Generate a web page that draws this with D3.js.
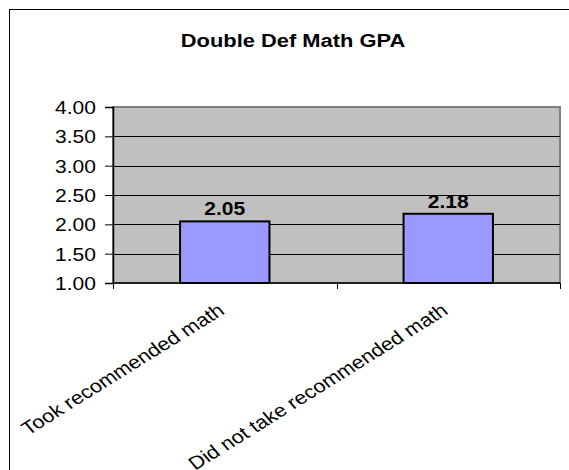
<!DOCTYPE html>
<html>
<head>
<meta charset="utf-8">
<script src="https://cdn.jsdelivr.net/npm/d3@7"></script>
<style>
  html, body { margin: 0; padding: 0; background: #fff; }
  svg { display: block; }
  text { font-family: "Liberation Sans", Arial, sans-serif; fill: #000; }
</style>
</head>
<body>
<svg id="chart" width="569" height="470"></svg>
<script>
const title = "Double Def Math GPA";
const categories = ["Took recommended math", "Did not take recommended math"];
const values = [2.05, 2.18];
const valueLabels = ["2.05", "2.18"];
const yTicks = [1.00, 1.50, 2.00, 2.50, 3.00, 3.50, 4.00];
const yDomain = [1, 4];

const W = 569, H = 470;
const plot = { left: 113, top: 107, right: 560, bottom: 283 };
const sx = 1.17; // horizontal stretch of the original picture

const svg = d3.select("#chart");

// outer chart border (cropped on right/bottom)
svg.append("rect")
  .attr("x", 9.5).attr("y", 9.5)
  .attr("width", W + 10).attr("height", H + 10)
  .attr("fill", "#fff").attr("stroke", "#000").attr("stroke-width", 1);

const x = d3.scaleBand()
  .domain(categories)
  .range([plot.left, plot.right])
  .paddingInner(0.6)
  .paddingOuter(0.3);

const y = d3.scaleLinear().domain(yDomain).range([plot.bottom, plot.top]);

// plot area
svg.append("rect")
  .attr("x", plot.left).attr("y", plot.top)
  .attr("width", plot.right - plot.left).attr("height", plot.bottom - plot.top)
  .attr("fill", "#C0C0C0").attr("stroke", "#808080").attr("stroke-width", 2);

// gridlines
svg.append("g").selectAll("line")
  .data(yTicks.filter(t => t > yDomain[0] && t < yDomain[1]))
  .join("line")
  .attr("x1", plot.left).attr("x2", plot.right)
  .attr("y1", d => Math.round(y(d)) + 0.5).attr("y2", d => Math.round(y(d)) + 0.5)
  .attr("stroke", "#000").attr("stroke-width", 1);

// bars
svg.append("g").selectAll("rect")
  .data(values)
  .join("rect")
  .attr("x", (d, i) => x(categories[i]))
  .attr("y", d => y(d))
  .attr("width", x.bandwidth())
  .attr("height", d => y(yDomain[0]) - y(d))
  .attr("fill", "#9999FF").attr("stroke", "#000").attr("stroke-width", 2);

// y axis
const yAxis = d3.axisLeft(y).tickValues(yTicks).tickSize(8).tickPadding(9)
  .tickFormat(d3.format(".2f"));
const gy = svg.append("g").attr("transform", `translate(${plot.left},0)`).call(yAxis);
gy.select(".domain").attr("stroke", "#000").attr("stroke-width", 1.5);
gy.selectAll(".tick line").attr("stroke", "#000");
gy.selectAll(".tick text")
  .attr("font-size", 18)
  .attr("dy", "0.36em")
  .each(function() {
    const t = d3.select(this);
    const xx = +t.attr("x");
    t.attr("x", 0).attr("transform", `translate(${xx},0) scale(${sx},1)`);
  });

// x axis (ticks at category boundaries)
const boundaries = [plot.left, (plot.left + plot.right) / 2, plot.right];
svg.append("line")
  .attr("x1", plot.left).attr("x2", plot.right)
  .attr("y1", plot.bottom).attr("y2", plot.bottom)
  .attr("stroke", "#000").attr("stroke-width", 1.5);
svg.append("g").selectAll("line")
  .data(boundaries)
  .join("line")
  .attr("x1", d => Math.round(d) + 0.5).attr("x2", d => Math.round(d) + 0.5)
  .attr("y1", plot.bottom).attr("y2", plot.bottom + 6)
  .attr("stroke", "#000");

// category labels, rotated
svg.append("g").selectAll("text")
  .data(categories)
  .join("text")
  .attr("transform", d => `translate(${x(d) + x.bandwidth() / 2 + 1},${plot.bottom + 30}) scale(${sx},1) rotate(-36)`)
  .attr("text-anchor", "end")
  .attr("font-size", 18.5)
  .text(d => d);

// value labels
svg.append("g").selectAll("text")
  .data(values)
  .join("text")
  .attr("transform", (d, i) => `translate(${x(categories[i]) + x.bandwidth() / 2},${y(d) - 6}) scale(${sx},1)`)
  .attr("text-anchor", "middle")
  .attr("font-size", 18)
  .attr("font-weight", "bold")
  .text((d, i) => valueLabels[i]);

// title
svg.append("text")
  .attr("transform", `translate(293,47) scale(${sx},1)`)
  .attr("text-anchor", "middle")
  .attr("font-size", 18.7)
  .attr("font-weight", "bold")
  .text(title);
</script>
</body>
</html>
